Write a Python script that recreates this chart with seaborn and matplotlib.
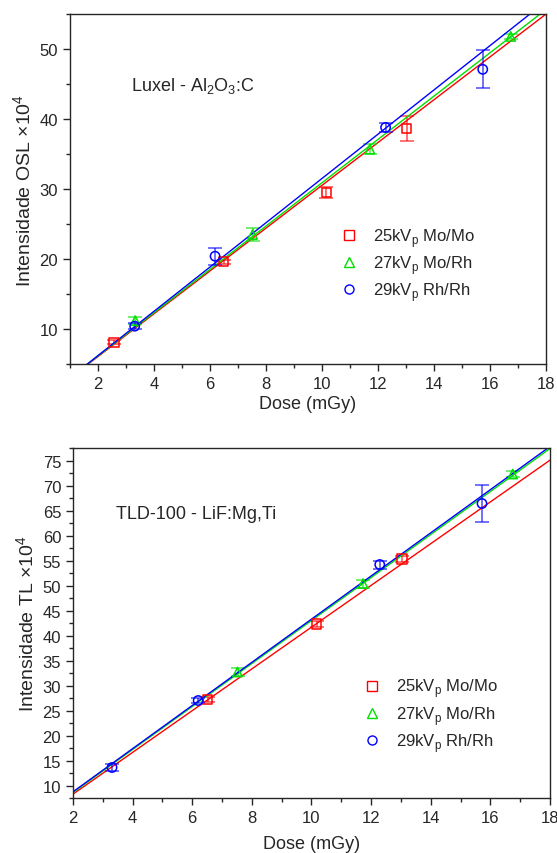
import numpy as np
import pandas as pd
import matplotlib
matplotlib.use('Agg')
import matplotlib.pyplot as plt
from matplotlib.ticker import MultipleLocator
from matplotlib.lines import Line2D
import seaborn as sns

sns.set_style('ticks')
plt.rcParams['font.family'] = ['Liberation Sans', 'DejaVu Sans']
plt.rcParams['mathtext.fontset'] = 'custom'
plt.rcParams['mathtext.rm'] = 'Liberation Sans'

# series labels / colours / markers
labels = ['25kV$_\\mathregular{p}$ Mo/Mo', '27kV$_\\mathregular{p}$ Mo/Rh', '29kV$_\\mathregular{p}$ Rh/Rh']
colors = ['#ff0000', '#00e000', '#0000ff']
markers = ['s', '^', 'o']

# OSL (Luxel - Al2O3:C)
osl_x = [[2.57, 6.49, 10.15, 13.02],
         [3.33, 7.52, 11.71, 16.74],
         [3.31, 6.18, 12.27, 15.74]]
osl_y = [[8.1, 19.6, 29.5, 38.6],
         [11.2, 23.5, 35.7, 51.8],
         [10.4, 20.4, 38.8, 47.1]]
osl_err = [[0.3, 0.3, 0.8, 1.8],
           [0.5, 0.9, 0.7, 0.4],
           [0.4, 1.2, 0.7, 2.7]]
osl_slope = [3.058, 3.094, 3.163]
osl_icpt = [-0.05, -0.04, -0.12]

# TL (TLD-100 - LiF:Mg,Ti)
tl_x = [[6.52, 10.17, 13.04],
        [7.52, 11.73, 16.75],
        [3.31, 6.20, 12.29, 15.72]]
tl_y = [[27.2, 42.3, 55.3],
        [32.7, 50.4, 72.3],
        [13.6, 27.0, 54.2, 66.4]]
tl_err = [[0.5, 0.6, 0.6],
          [0.8, 0.8, 0.6],
          [0.7, 0.5, 0.8, 3.75]]
tl_slope = [4.175, 4.30, 4.317]
tl_icpt = [-0.08, 0.0, 0.10]


def panel(ax, xs, ys, errs, slopes, icpts, xlim, ylim, ylabel, note, note_xy, leg_anchor, xpad):
    for i in range(3):
        xf = np.linspace(xlim[0], xlim[1], 50)
        fit = pd.DataFrame({'x': xf, 'y': slopes[i] * xf + icpts[i]})
        sns.lineplot(data=fit, x='x', y='y', ax=ax, color=colors[i], lw=1.0)
        ax.errorbar(xs[i], ys[i], yerr=errs[i], fmt='none', ecolor=colors[i],
                    alpha=0.6, elinewidth=1.3, capsize=5, capthick=1.3)
        pts = pd.DataFrame({'x': xs[i], 'y': ys[i]})
        sns.scatterplot(data=pts, x='x', y='y', ax=ax, marker=markers[i], s=45,
                        facecolor='none', edgecolor=colors[i], linewidth=1.1, zorder=5)
    ax.set_xlim(*xlim)
    ax.set_ylim(*ylim)
    ax.set_xlabel('Dose (mGy)', fontsize=13, labelpad=xpad)
    ax.set_ylabel(ylabel, fontsize=14, labelpad=3)
    ax.xaxis.set_major_locator(MultipleLocator(2))
    ax.xaxis.set_minor_locator(MultipleLocator(1))
    ax.tick_params(which='major', direction='out', length=5, width=1, labelsize=12)
    ax.tick_params(which='minor', direction='out', length=3, width=1)
    for s in ax.spines.values():
        s.set_linewidth(1.0)
        s.set_visible(True)
    ax.text(note_xy[0], note_xy[1], note, transform=ax.transAxes, fontsize=13, va='center')
    handles = [Line2D([], [], ls='none', marker=markers[i], mfc='none', mec=colors[i],
                      ms=6.5, mew=1.0) for i in range(3)]
    ax.legend(handles, labels, loc='center left', bbox_to_anchor=leg_anchor, frameon=False,
              fontsize=12, handletextpad=0.84, labelspacing=0.25, handlelength=1.2,
              borderpad=0, borderaxespad=0)


fig = plt.figure(figsize=(5.57, 8.54), dpi=100)
ax1 = fig.add_axes([0.1257, 0.5726, 0.8546, 0.4098])
ax2 = fig.add_axes([0.131, 0.0644, 0.8564, 0.4098])

panel(ax1, osl_x, osl_y, osl_err, osl_slope, osl_icpt, (1, 18), (5, 55),
      'Intensidade OSL ×10$^\\mathregular{4}$',
      'Luxel - Al$_\\mathregular{2}$O$_\\mathregular{3}$:C', (0.128, 0.797), (0.565, 0.285), 3)
ax1.yaxis.set_major_locator(MultipleLocator(10))
ax1.yaxis.set_minor_locator(MultipleLocator(5))

panel(ax2, tl_x, tl_y, tl_err, tl_slope, tl_icpt, (2, 18), (7.5, 77.5),
      'Intensidade TL ×10$^\\mathregular{4}$',
      'TLD-100 - LiF:Mg,Ti', (0.09, 0.814), (0.606, 0.237), 7)
ax2.yaxis.set_major_locator(MultipleLocator(5))
ax2.yaxis.set_minor_locator(MultipleLocator(2.5))

fig.savefig('out.png', dpi=100)
